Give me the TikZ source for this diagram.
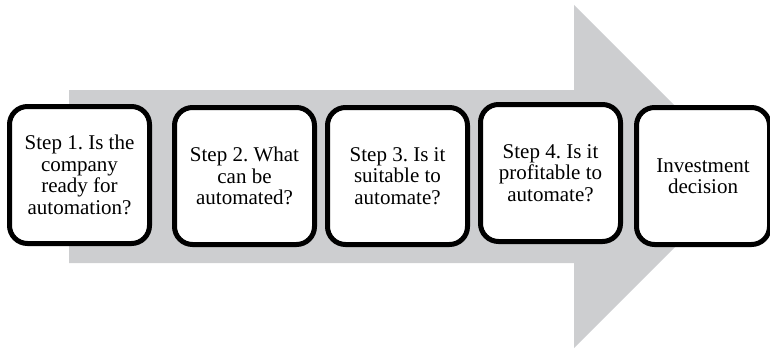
\documentclass[tikz,border=0pt]{standalone}
\usepackage{fontspec}
\setmainfont{Liberation Serif}
\usetikzlibrary{positioning}
\definecolor{arrowgrey}{RGB}{205,206,208}
\frenchspacing

\begin{document}
\begin{tikzpicture}
              [x=1pt,y=1pt,
                every node/.style={rectangle,draw=black,line width=5pt,rounded corners=18pt,fill=white,align=center,
                  font=\fontsize{21}{21.5}\selectfont,minimum width=140pt,minimum height=137pt,inner sep=2pt},
                last/.style={minimum width=133pt}]
              \useasboundingbox (0,0) rectangle (770,349);
              \fill[arrowgrey] (69,86) -- (69,259) -- (574,259) -- (574,344) -- (745.5,172.5) -- (574,1) -- (574,86) -- cycle;
              \node (n1) at (79.5,174) {Step 1. Is the\\company\\ready for\\automation?};
              \node (n2) [right=20pt of n1,yshift=-1pt] {Step 2. What\\can be\\automated?};
              \node (n3) [right=8pt of n2] {Step 3. Is it\\suitable to\\automate?};
              \node (n4) [right=8pt of n3,yshift=3pt] {Step 4. Is it\\profitable to\\automate?};
              \node (n5) [right=11pt of n4,yshift=-3pt,last] {Investment\\decision};
            \end{tikzpicture}
\end{document}
